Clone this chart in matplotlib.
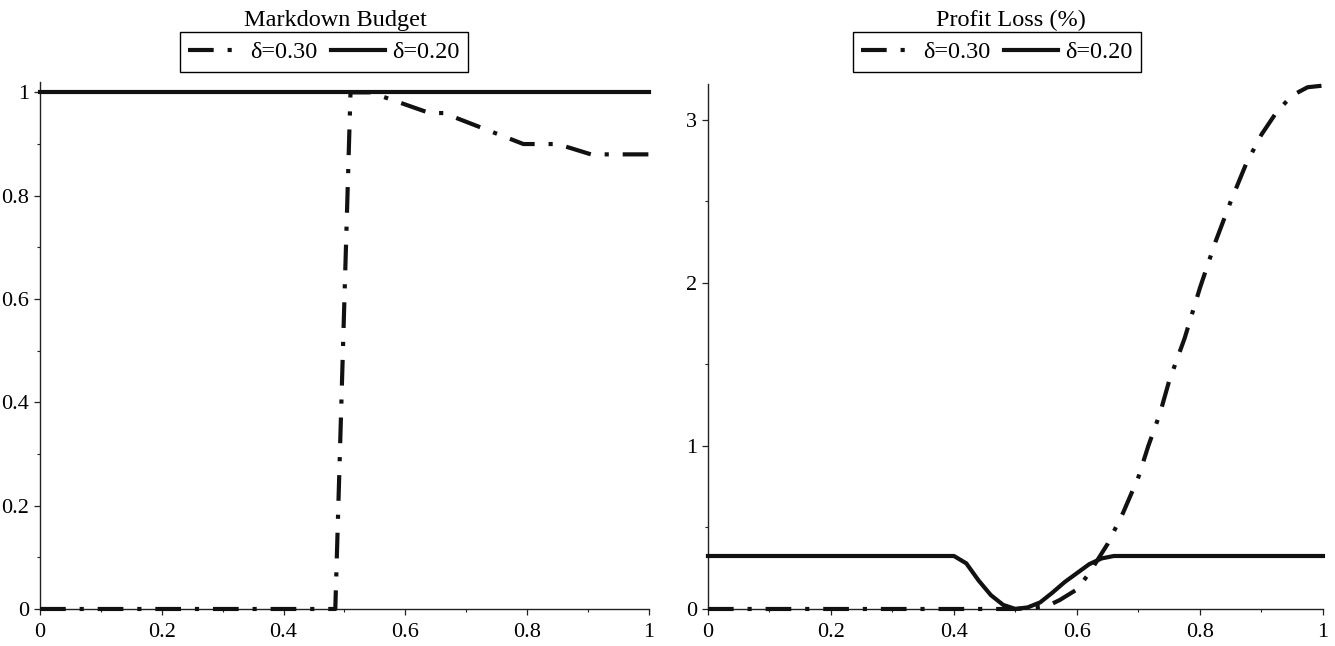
"""
Markdown budget and profit loss for two delta values
"""

import matplotlib.pyplot as plt
from matplotlib.ticker import MultipleLocator


OUTPUT_FILE = "out.png"

# Markdown budget, delta = 0.30 (dash-dot) and 0.20 (solid)
budget_x_30 = [0.0, 0.485, 0.51, 0.543, 0.64, 0.663, 0.794, 0.85, 0.905, 1.0]
budget_y_30 = [0.0, 0.0, 1.0, 1.0, 0.96, 0.96, 0.90, 0.90, 0.88, 0.88]

budget_x_20 = [0.0, 1.0]
budget_y_20 = [1.0, 1.0]

# Profit loss (%), delta = 0.30
loss_x_30 = [0.0, 0.50, 0.55, 0.572, 0.60, 0.62, 0.65, 0.675, 0.70, 0.716,
             0.735, 0.75, 0.775, 0.80, 0.825, 0.85, 0.875, 0.90, 0.925,
             0.95, 0.975, 1.0]
loss_y_30 = [0.0, 0.0, 0.015, 0.055, 0.12, 0.22, 0.40, 0.59, 0.81, 1.0,
             1.2, 1.40, 1.66, 1.97, 2.25, 2.50, 2.73, 2.91, 3.05,
             3.15, 3.20, 3.21]

# Profit loss (%), delta = 0.20
loss_x_20 = [0.0, 0.40, 0.42, 0.44, 0.46, 0.48, 0.50, 0.52, 0.54, 0.56,
             0.58, 0.60, 0.62, 0.64, 0.66, 1.0]
loss_y_20 = [0.325, 0.325, 0.28, 0.175, 0.085, 0.025, 0.0, 0.01, 0.04,
             0.10, 0.165, 0.22, 0.275, 0.31, 0.325, 0.325]

labels = ["δ=0.30", "δ=0.20"]
titles = ["Markdown Budget", "Profit Loss (%)"]


plt.rcParams["font.family"] = ["Liberation Serif", "DejaVu Serif"]
plt.rcParams["lines.scale_dashes"] = False

DASHDOT = (0, (18.5, 10, 3, 10))
LW = 3.0


def style_axis(ax, ymax, ymajor, yminor):

    ax.set_xlim(0, 1)
    ax.set_ylim(0, ymax)

    for side in ["top", "right"]:
        ax.spines[side].set_visible(False)
    for side in ["left", "bottom"]:
        ax.spines[side].set_linewidth(1.0)
        ax.spines[side].set_color("#222222")

    ax.xaxis.set_major_locator(MultipleLocator(0.2))
    ax.xaxis.set_minor_locator(MultipleLocator(0.1))
    ax.yaxis.set_major_locator(MultipleLocator(ymajor))
    ax.yaxis.set_minor_locator(MultipleLocator(yminor))

    ax.xaxis.set_major_formatter(lambda v, pos: f"{round(v, 6):g}")
    ax.yaxis.set_major_formatter(lambda v, pos: f"{round(v, 6):g}")

    ax.tick_params(which="major", direction="out", length=4, width=0.9,
                   labelsize=16, color="#222222")
    ax.tick_params(which="minor", direction="out", length=2.5, width=0.8,
                   color="#222222")
    ax.tick_params(axis="y", pad=4)
    ax.tick_params(axis="x", pad=6)


def main():

    fig = plt.figure(figsize=(13.35, 6.46), dpi=100)

    ax1 = fig.add_axes([0.030, 0.0573, 0.456, 0.8157])
    ax2 = fig.add_axes([0.5303, 0.0573, 0.4607, 0.8127])

    panels = [
        (ax1, budget_x_30, budget_y_30, budget_x_20, budget_y_20),
        (ax2, loss_x_30, loss_y_30, loss_x_20, loss_y_20),
    ]

    for ax, x30, y30, x20, y20 in panels:
        ax.plot(x30, y30, color="#111111", linewidth=LW, linestyle=DASHDOT,
                dash_capstyle="butt", clip_on=False, zorder=3,
                label=labels[0])
        ax.plot(x20, y20, color="#111111", linewidth=LW, linestyle="-",
                clip_on=False, zorder=3, label=labels[1])

    style_axis(ax1, 1.02, 0.2, 0.1)
    style_axis(ax2, 3.22, 1, 0.5)

    # titles and legends are centred over the whole panel, labels included
    title_pos = [(335 / 1335, 0.969), (1011 / 1335, 0.969)]
    legend_pos = [(324 / 1335, 0.9195), (997 / 1335, 0.9195)]

    for ax, title, tpos, lpos in zip([ax1, ax2], titles, title_pos, legend_pos):
        fig.text(tpos[0], tpos[1], title, ha="center", va="center",
                 fontsize=17.5)
        leg = ax.legend(
            loc="center",
            bbox_to_anchor=lpos,
            bbox_transform=fig.transFigure,
            ncol=2,
            fontsize=17.5,
            frameon=True,
            fancybox=False,
            framealpha=1,
            edgecolor="black",
            handlelength=2.25,
            handletextpad=0.3,
            columnspacing=0.55,
            borderpad=0.35,
            borderaxespad=0,
        )
        leg.get_frame().set_linewidth(1.0)

    fig.savefig(OUTPUT_FILE, dpi=100)
    plt.close(fig)


if __name__ == "__main__":
    main()
